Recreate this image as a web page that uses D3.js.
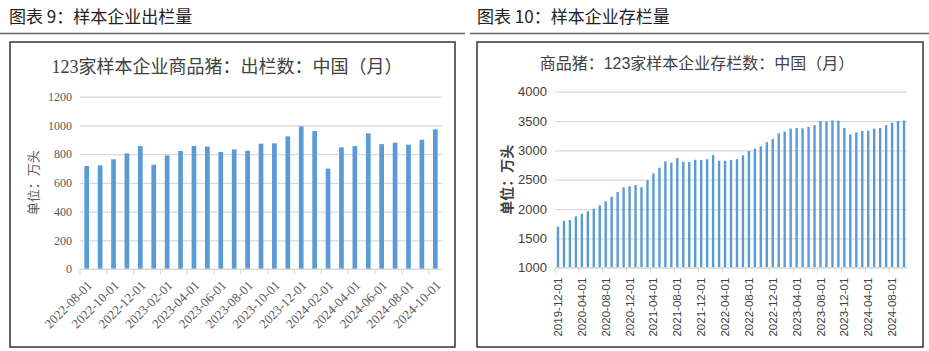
<!DOCTYPE html>
<html>
<head>
<meta charset="utf-8">
<script src="https://cdn.jsdelivr.net/npm/d3@7"></script>
<style>
  body { margin: 0; background: #fff; }
  svg { display: block; }
</style>
</head>
<body>
<div id="chart"></div>
<script>
// 出栏量 (万头), 2022-08 .. 2024-10
const outMonths = [
  "2022-08-01", "2022-09-01", "2022-10-01", "2022-11-01", "2022-12-01", "2023-01-01",
  "2023-02-01", "2023-03-01", "2023-04-01", "2023-05-01", "2023-06-01", "2023-07-01",
  "2023-08-01", "2023-09-01", "2023-10-01", "2023-11-01", "2023-12-01", "2024-01-01",
  "2024-02-01", "2024-03-01", "2024-04-01", "2024-05-01", "2024-06-01", "2024-07-01",
  "2024-08-01", "2024-09-01", "2024-10-01"
];
const outValues = [
  717, 722, 764, 805, 856, 726, 791, 822, 856, 852, 815, 833, 824, 873,
  875, 924, 993, 961, 699, 847, 856, 945, 870, 880, 866, 900, 973
];
const outTicks = [0, 200, 400, 600, 800, 1000, 1200];

// 存栏量 (万头), 2019-12 .. 2024-10
const stockMonths = [
  "2019-12-01",
  "2020-01-01", "2020-02-01", "2020-03-01", "2020-04-01", "2020-05-01", "2020-06-01",
  "2020-07-01", "2020-08-01", "2020-09-01", "2020-10-01", "2020-11-01", "2020-12-01",
  "2021-01-01", "2021-02-01", "2021-03-01", "2021-04-01", "2021-05-01", "2021-06-01",
  "2021-07-01", "2021-08-01", "2021-09-01", "2021-10-01", "2021-11-01", "2021-12-01",
  "2022-01-01", "2022-02-01", "2022-03-01", "2022-04-01", "2022-05-01", "2022-06-01",
  "2022-07-01", "2022-08-01", "2022-09-01", "2022-10-01", "2022-11-01", "2022-12-01",
  "2023-01-01", "2023-02-01", "2023-03-01", "2023-04-01", "2023-05-01", "2023-06-01",
  "2023-07-01", "2023-08-01", "2023-09-01", "2023-10-01", "2023-11-01", "2023-12-01",
  "2024-01-01", "2024-02-01", "2024-03-01", "2024-04-01", "2024-05-01", "2024-06-01",
  "2024-07-01", "2024-08-01", "2024-09-01", "2024-10-01"
];
const stockValues = [
  1700, 1800, 1812, 1875, 1920, 1960, 2005, 2062, 2130, 2210, 2290, 2370,
  2390, 2410, 2370, 2490, 2607, 2705, 2812, 2790, 2870, 2805, 2800, 2840,
  2835, 2850, 2920, 2823, 2823, 2835, 2850, 2915, 2990, 3030, 3070, 3140,
  3195, 3290, 3320, 3370, 3380, 3375, 3400, 3430, 3500, 3495, 3510, 3505,
  3380, 3270, 3305, 3330, 3335, 3370, 3380, 3430, 3470, 3500, 3510
];
const stockTicks = [1000, 1500, 2000, 2500, 3000, 3500, 4000];

const width = 929;
const height = 351;
const barColor = "#5b9bd5";
const gridColor = "#d9d9d9";

const svg = d3.select("#chart")
  .append("svg")
  .attr("width", width)
  .attr("height", height);

// headers above the two panels
svg.append("text")
  .attr("x", 9)
  .attr("y", 23)
  .style("font-family", "'Noto Sans CJK SC', sans-serif")
  .style("font-size", "17px")
  .style("fill", "#222")
  .text("图表 9：样本企业出栏量");

svg.append("text")
  .attr("x", 477)
  .attr("y", 23)
  .style("font-family", "'Noto Sans CJK SC', sans-serif")
  .style("font-size", "17px")
  .style("fill", "#222")
  .text("图表 10：样本企业存栏量");

svg.append("line")
  .attr("x1", 0).attr("x2", 465)
  .attr("y1", 33.5).attr("y2", 33.5)
  .attr("stroke", "#666").attr("stroke-width", 1.5);

svg.append("line")
  .attr("x1", 470).attr("x2", 929)
  .attr("y1", 33.5).attr("y2", 33.5)
  .attr("stroke", "#666").attr("stroke-width", 1.5);

function drawPanel(opt) {
  const g = svg.append("g");

  g.append("rect")
    .attr("x", opt.box[0])
    .attr("y", opt.box[1])
    .attr("width", opt.box[2])
    .attr("height", opt.box[3])
    .attr("fill", "none")
    .attr("stroke", "#333")
    .attr("stroke-width", 1.5);

  g.append("text")
    .attr("x", opt.titleX)
    .attr("y", opt.titleY)
    .attr("text-anchor", "middle")
    .style("font-family", opt.titleFont)
    .style("font-size", opt.titleSize)
    .style("fill", "#404040")
    .text(opt.title);

  const x = d3.scaleBand()
    .domain(opt.months)
    .range([opt.left, opt.right])
    .paddingInner(opt.pad)
    .paddingOuter(opt.pad / 2);

  const y = d3.scaleLinear()
    .domain([opt.ticks[0], opt.ticks[opt.ticks.length - 1]])
    .range([opt.bottom, opt.top]);

  // grid + y labels
  const yAxis = g.append("g")
    .attr("transform", `translate(${opt.left},0)`)
    .call(d3.axisLeft(y)
      .tickValues(opt.ticks)
      .tickFormat(d3.format("d"))
      .tickSize(-(opt.right - opt.left))
      .tickPadding(8));
  yAxis.select(".domain").remove();
  yAxis.selectAll(".tick line")
    .attr("stroke", gridColor)
    .attr("stroke-width", 1.2);
  yAxis.selectAll(".tick text")
    .style("font-family", opt.tickFont)
    .style("font-size", opt.yTickSize)
    .style("fill", opt.tickColor);

  g.selectAll(null)
    .data(opt.values)
    .join("rect")
    .attr("x", (d, i) => x(opt.months[i]))
    .attr("y", d => y(d))
    .attr("width", x.bandwidth())
    .attr("height", d => y(opt.ticks[0]) - y(d))
    .attr("fill", barColor);

  // x axis line with ticks on category boundaries
  const step = x.step();
  const boundaries = d3.range(0, opt.months.length, opt.every);
  g.append("line")
    .attr("x1", opt.left).attr("x2", opt.right)
    .attr("y1", opt.bottom).attr("y2", opt.bottom)
    .attr("stroke", gridColor).attr("stroke-width", 1.2);
  g.selectAll(null)
    .data(boundaries)
    .join("line")
    .attr("x1", b => opt.left + b * step)
    .attr("x2", b => opt.left + b * step)
    .attr("y1", opt.bottom)
    .attr("y2", opt.bottom + 5)
    .attr("stroke", gridColor).attr("stroke-width", 1.2);

  g.selectAll(null)
    .data(boundaries)
    .join("text")
    .attr("transform", b => {
      const cx = x(opt.months[b]) + x.bandwidth() / 2;
      return `translate(${cx + opt.labelDx},${opt.bottom + opt.labelDy}) rotate(${opt.labelAngle})`;
    })
    .attr("text-anchor", "end")
    .attr("dy", "0.35em")
    .style("font-family", opt.tickFont)
    .style("font-size", opt.xTickSize)
    .style("fill", opt.tickColor)
    .text(b => opt.months[b]);

  g.append("text")
    .attr("transform", `translate(${opt.yLabelX},${(opt.top + opt.bottom) / 2}) rotate(-90)`)
    .attr("text-anchor", "middle")
    .attr("dy", "0.35em")
    .style("font-family", opt.yLabelFont)
    .style("font-size", opt.yLabelSize)
    .style("font-weight", opt.yLabelWeight)
    .style("fill", opt.tickColor)
    .text("单位：万头");
}

drawPanel({
  box: [10, 42, 445, 305],
  title: "123家样本企业商品猪：出栏数：中国（月）",
  titleX: 227, titleY: 73,
  titleFont: "'Liberation Serif', 'Noto Sans CJK SC', serif",
  titleSize: "18px",
  months: outMonths, values: outValues, ticks: outTicks,
  left: 80, right: 442, top: 96.7, bottom: 269,
  pad: 0.65, every: 2,
  tickFont: "'Liberation Serif', 'Noto Sans CJK SC', serif",
  tickColor: "#595959",
  yTickSize: "12px", xTickSize: "13px",
  labelDx: 3, labelDy: 14, labelAngle: -45,
  yLabelX: 33, yLabelFont: "'Noto Sans CJK SC', serif", yLabelSize: "13px", yLabelWeight: 400
});

drawPanel({
  box: [477, 42, 446, 305],
  title: "商品猪：123家样本企业存栏数：中国（月）",
  titleX: 697, titleY: 69,
  titleFont: "'Liberation Sans', 'Noto Sans CJK SC', sans-serif",
  titleSize: "16px",
  months: stockMonths, values: stockValues, ticks: stockTicks,
  left: 555, right: 907, top: 91.7, bottom: 267.7,
  pad: 0.6, every: 4,
  tickFont: "'Liberation Sans', 'Noto Sans CJK SC', sans-serif",
  tickColor: "#404040",
  yTickSize: "13px", xTickSize: "11.5px",
  labelDx: 0, labelDy: 10, labelAngle: -90,
  yLabelX: 507, yLabelFont: "'Noto Sans CJK SC', sans-serif", yLabelSize: "14px", yLabelWeight: 700
});
</script>
</body>
</html>
